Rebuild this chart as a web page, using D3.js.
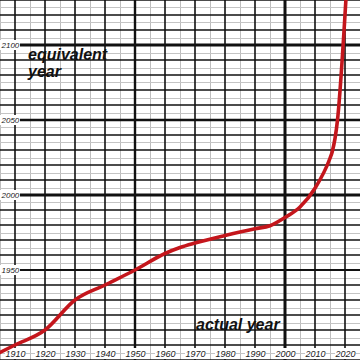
<!DOCTYPE html>
<html><head><meta charset="utf-8">
<script src="https://cdn.jsdelivr.net/npm/d3@7"></script>
<style>html,body{margin:0;padding:0;background:#fff}svg{display:block}</style>
</head><body>
<script>
const actualYears = [1905, 1910, 1920, 1930, 1940, 1950, 1960, 1965, 1970, 1980, 1990, 1995, 2000, 2005, 2010, 2015, 2015.7, 2017.5, 2020.3];
const equivalentYears = [1895, 1900, 1910, 1930, 1940, 1950, 1961, 1965, 1968, 1973, 1977.5, 1979.5, 1985, 1992, 2004.5, 2024.5, 2028.5, 2050, 2130];
const xTickLabels = [1910, 1920, 1930, 1940, 1950, 1960, 1970, 1980, 1990, 2000, 2010, 2020];
const yTickLabels = [1950, 2000, 2050, 2100];
const xAxisTitle = "actual year";
const yAxisTitle = ["equivalent", "year"];

const W = 360, H = 360;
const x = d3.scaleLinear().domain([1905, 2025]).range([0, 360]);
const y = d3.scaleLinear().domain([1900, 2130]).range([345, 0]);

const svg = d3.select("body").append("svg").attr("width", W).attr("height", H);
svg.append("rect").attr("width", W).attr("height", H).attr("fill", "#fff");

const xs = d3.range(1905, 2026, 5);
const ys = d3.range(1890, 2131, 5);
const g = svg.append("g");
g.selectAll(".vm").data(xs.filter(v => v % 10 !== 0)).join("line")
  .attr("x1", d => x(d) + 0.5).attr("x2", d => x(d) + 0.5).attr("y1", 0).attr("y2", H)
  .attr("stroke", "#bdbdbd").attr("stroke-width", 1);
g.selectAll(".hm").data(ys.filter(v => v % 10 !== 0)).join("line")
  .attr("y1", d => Math.round(y(d)) + 0.5).attr("y2", d => Math.round(y(d)) + 0.5).attr("x1", 0).attr("x2", W)
  .attr("stroke", "#c4c4c4").attr("stroke-width", 1);
g.selectAll(".vM").data(xs.filter(v => v % 10 === 0)).join("line")
  .attr("x1", d => x(d)).attr("x2", d => x(d)).attr("y1", 0).attr("y2", H)
  .attr("stroke", "#111").attr("stroke-width", d => d === 2000 ? 3 : (d === 1950 ? 2.4 : 1.6));
g.selectAll(".hM").data(ys.filter(v => v % 10 === 0)).join("line")
  .attr("y1", d => y(d)).attr("y2", d => y(d)).attr("x1", 0).attr("x2", W)
  .attr("stroke", "#111").attr("stroke-width", 1.6);
g.selectAll(".hT").data(yTickLabels).join("line")
  .attr("y1", d => y(d)).attr("y2", d => y(d)).attr("x1", 20).attr("x2", W)
  .attr("stroke", "#111").attr("stroke-width", d => (d === 2000 || d === 2100) ? 3.2 : (d === 2050 ? 2.6 : 2));

const lab = svg.append("g").attr("font-family", "'Liberation Sans', Arial, sans-serif")
  .attr("font-style", "italic").attr("fill", "#222");
lab.selectAll(".yb").data(yTickLabels).join("rect")
  .attr("x", 0).attr("y", d => y(d) - 5).attr("width", 20).attr("height", 10).attr("fill", "#fff");
lab.selectAll(".yt").data(yTickLabels).join("text")
  .attr("x", 1.5).attr("y", d => y(d)).attr("dy", "0.35em").attr("font-size", 8).attr("text-anchor", "start").text(d => d);
lab.selectAll(".xb").data(xTickLabels).join("rect")
  .attr("x", d => x(d) - 10).attr("y", 348).attr("width", 21).attr("height", 11).attr("fill", "#fff");
lab.selectAll(".xt").data(xTickLabels).join("text")
  .attr("x", d => x(d) + 0.5).attr("y", 353.5).attr("dy", "0.35em").attr("font-size", 9).attr("text-anchor", "middle").text(d => d);

const pts = actualYears.map((a, i) => [a, equivalentYears[i]]);
svg.append("path").datum(pts)
  .attr("d", d3.line().x(d => x(d[0])).y(d => y(d[1])).curve(d3.curveMonotoneX))
  .attr("fill", "none").attr("stroke", "#c4161c").attr("stroke-width", 3.6)
  .attr("stroke-linejoin", "round").attr("stroke-linecap", "round");

const t = svg.append("g").attr("font-family", "'Liberation Sans', Arial, sans-serif")
  .attr("font-style", "italic").attr("font-weight", "bold").attr("font-size", 16).attr("fill", "#111");
t.selectAll(".yt2").data(yAxisTitle).join("text")
  .attr("x", 28).attr("y", (d, i) => 60 + i * 17).text(d => d);
t.append("text").attr("x", 196).attr("y", 330).text(xAxisTitle);
</script>
</body></html>
